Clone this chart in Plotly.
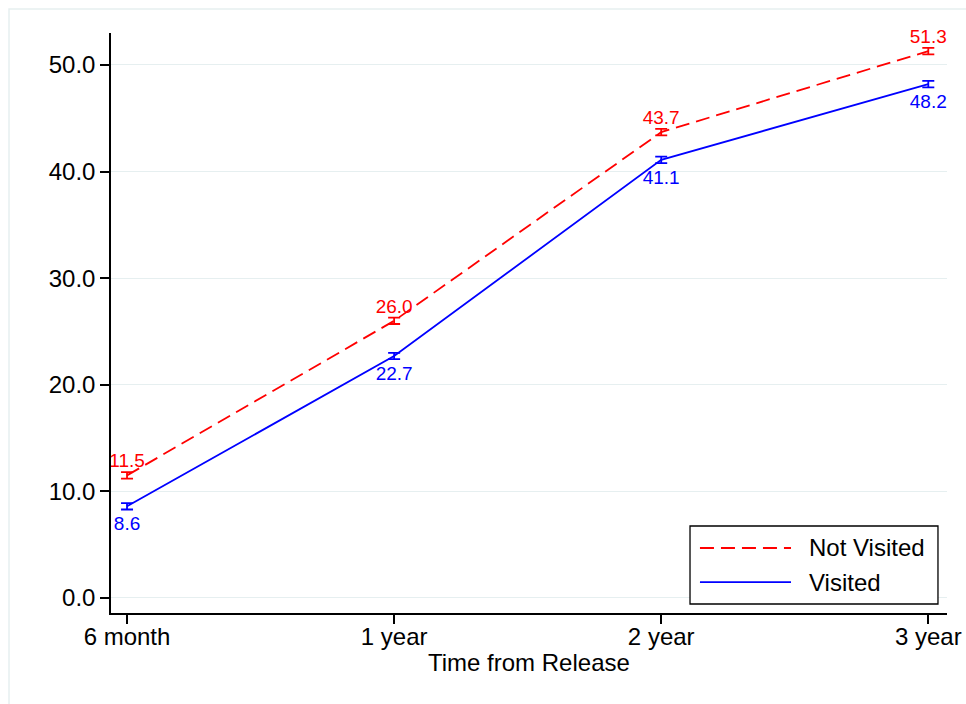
import plotly.graph_objects as go

categories = ["6 month", "1 year", "2 year", "3 year"]
not_visited = [11.5, 26.0, 43.7, 51.3]
not_visited_err = [0.3, 0.3, 0.3, 0.3]
visited = [8.6, 22.7, 41.1, 48.2]
visited_err = [0.3, 0.3, 0.3, 0.3]
y_ticks = [0, 10, 20, 30, 40, 50]
y_ticklabels = ["0.0", "10.0", "20.0", "30.0", "40.0", "50.0"]
legend_names = ["Not Visited", "Visited"]
x_title = "Time from Release"

xpos = list(range(len(categories)))
FONT = "Liberation Sans, Arial, Helvetica, sans-serif"
RED = "#ff0000"
BLUE = "#0000ff"
DASH = "14px,7px"

fig = go.Figure()
fig.add_trace(go.Scatter(
    x=xpos, y=not_visited, name=legend_names[0], mode="lines+markers+text",
    line=dict(color=RED, width=1.8, dash=DASH),
    marker=dict(size=4, color="rgba(0,0,0,0)"),
    text=[f"{v:.1f}" for v in not_visited], textposition="top center",
    textfont=dict(color=RED, size=19, family=FONT),
    error_y=dict(type="data", array=not_visited_err, color=RED, thickness=1.8, width=6),
    showlegend=False, cliponaxis=False, hoverinfo="skip",
))
fig.add_trace(go.Scatter(
    x=xpos, y=visited, name=legend_names[1], mode="lines+markers+text",
    line=dict(color=BLUE, width=1.8),
    marker=dict(size=14, color="rgba(0,0,0,0)"),
    text=[f"{v:.1f}" for v in visited], textposition="bottom center",
    textfont=dict(color=BLUE, size=19, family=FONT),
    error_y=dict(type="data", array=visited_err, color=BLUE, thickness=1.8, width=6),
    showlegend=False, cliponaxis=False, hoverinfo="skip",
))

# legend box (drawn to match the long sample lines of the original)
shapes = [
    dict(type="rect", xref="paper", yref="paper",
         x0=-0.122, x1=1.2, y0=-0.3, y1=1.0414,
         line=dict(color="#e6eff0", width=1.5), layer="below"),
    dict(type="rect", xref="paper", yref="paper",
         x0=0.6926, x1=0.9892, y0=0.0155, y1=0.15,
         line=dict(color="black", width=1.3), fillcolor="white", layer="above"),
    dict(type="line", xref="paper", yref="paper",
         x0=0.7045, x1=0.8134, y0=0.1121, y1=0.1121,
         line=dict(color=RED, width=1.8, dash=DASH)),
    dict(type="line", xref="paper", yref="paper",
         x0=0.7045, x1=0.8134, y0=0.0534, y1=0.0534,
         line=dict(color=BLUE, width=1.8)),
]
annotations = [
    dict(xref="paper", yref="paper", x=0.8325, y=0.1121, text=legend_names[0],
         showarrow=False, xanchor="left", yanchor="middle", font=dict(size=24)),
    dict(xref="paper", yref="paper", x=0.8325, y=0.0534, text=legend_names[1],
         showarrow=False, xanchor="left", yanchor="middle", font=dict(size=24)),
    dict(xref="paper", yref="paper", x=0.5, y=-0.0862, text=x_title,
         showarrow=False, xanchor="center", yanchor="middle", font=dict(size=24)),
]

fig.update_layout(
    width=966, height=704,
    margin=dict(l=111, r=19, t=33, b=91, autoexpand=False),
    paper_bgcolor="white", plot_bgcolor="white",
    font=dict(family=FONT, size=24, color="black"),
    showlegend=False,
    xaxis=dict(
        range=[-0.06, 3.07], tickmode="array", tickvals=xpos, ticktext=categories,
        showgrid=False, zeroline=False, showline=True, linecolor="black", linewidth=1.5,
        ticks="outside", ticklen=9, tickcolor="black", tickwidth=1.5,
        tickfont=dict(size=24), automargin=False, ticklabelstandoff=-8,
    ),
    yaxis=dict(
        range=[-1.41, 53.0], tickmode="array", tickvals=y_ticks, ticktext=y_ticklabels,
        showgrid=True, gridcolor="#e6eff0", gridwidth=1.3, zeroline=False,
        showline=True, linecolor="black", linewidth=1.5,
        ticks="outside", ticklen=9, tickcolor="black", tickwidth=1.5,
        tickfont=dict(size=24), automargin=False,
    ),
    shapes=shapes,
    annotations=annotations,
)

fig.write_html("out.html", config={"displayModeBar": False},
               post_script="document.body.style.margin='0px';")
